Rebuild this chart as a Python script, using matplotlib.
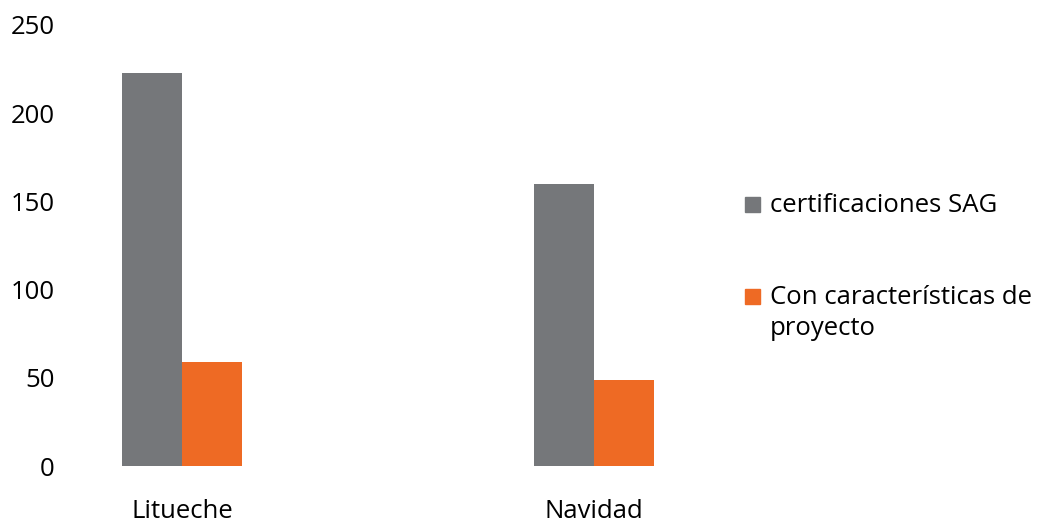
import matplotlib.pyplot as plt
from matplotlib.patches import Rectangle
import numpy as np

# data
categories = ['Litueche', 'Navidad']
series_names = ['certificaciones SAG', 'Con características de\nproyecto']
certificaciones = [223, 160]
con_caracteristicas = [59, 49]
y_ticks = [0, 50, 100, 150, 200, 250]

GRAY = '#75777a'
ORANGE = '#ee6a24'

plt.rcParams['font.family'] = ['Open Sans', 'DejaVu Sans']

W, H = 1043, 525
fig = plt.figure(figsize=(W / 100, H / 100), dpi=100)

# axes placed in pixel terms: x 70..720, y from 466 (zero) up 441 px
ax = fig.add_axes([70 / W, (H - 466) / H, 650 / W, 441 / H])

x = np.arange(len(categories))
width = 0.145
ax.bar(x - width / 2, certificaciones, width, color=GRAY)
ax.bar(x + width / 2, con_caracteristicas, width, color=ORANGE)

ax.set_ylim(0, 250)
ax.set_xlim(-0.272, 1.306)
ax.set_yticks(y_ticks)
ax.set_xticks(x)
ax.set_xticklabels(categories)
ax.tick_params(axis='y', length=0, pad=11, labelsize=18.5)
ax.tick_params(axis='x', length=0, pad=24, labelsize=18.5)
for s in ax.spines.values():
    s.set_visible(False)

# legend drawn by hand so the square sits on the first line
leg_y = [205, 297]
for col, name, yy in zip([GRAY, ORANGE], series_names, leg_y):
    fig.patches.append(Rectangle((745 / W, (H - yy - 7) / H), 15 / W, 15 / H,
                                 transform=fig.transFigure, color=col))
    fig.text(770 / W, (H - yy + 12) / H, name, fontsize=18.5, va='top',
             ha='left', linespacing=1.32, transform=fig.transFigure)

fig.savefig('out.png', dpi=100)
